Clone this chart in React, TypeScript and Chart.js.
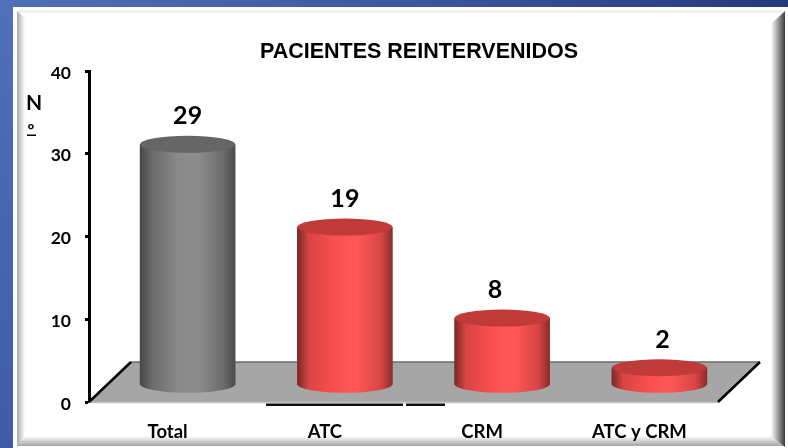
import React, { useEffect, useRef } from "react";
import { Chart, registerables } from "chart.js";

Chart.register(...registerables);

const categories = ["Total", "ATC", "CRM", "ATC y CRM"];
const patients = [29, 19, 8, 2];
const yTicks = [0, 10, 20, 30, 40];
const chartTitle = "PACIENTES REINTERVENIDOS";
const axisTitleLines = ["N", "º"];

const graySide = ["#474747", "#6a6a6a", "#8a8a8a", "#8c8c8c", "#6a6a6a", "#4c4c4c"];
const redSide = ["#7a2828", "#d84444", "#fb5050", "#ff5757", "#d84545", "#8c2c2c"];
const sideStops = [graySide, redSide, redSide, redSide];
const capColors = ["#666666", "#c13a3a", "#c13a3a", "#c13a3a"];
const labelNudge = [0, 0, -7, 3];
const stopAt = [0, 0.12, 0.4, 0.62, 0.88, 1];

const DEPTH_X = 20;
const DEPTH_Y = -21;
const CAP_RY = 8.5;
const FONT = "Lato, 'Open Sans', sans-serif";

function sideGradient(ctx: CanvasRenderingContext2D, cx: number, w: number, i: number) {
  const g = ctx.createLinearGradient(cx - w / 2, 0, cx + w / 2, 0);
  sideStops[i].forEach((color, k) => g.addColorStop(stopAt[k], color));
  return g;
}

const framePlugin = {
  id: "frame",
  beforeDraw(chart: any) {
    const { ctx, width: W, height: H } = chart;
    ctx.save();
    const bg = ctx.createLinearGradient(0, H, W, 0);
    bg.addColorStop(0, "#3f5ba6");
    bg.addColorStop(0.25, "#5070b8");
    bg.addColorStop(0.6, "#3d5aa2");
    bg.addColorStop(1, "#253a7c");
    ctx.fillStyle = bg;
    ctx.fillRect(0, 0, W, H);
    ctx.fillStyle = "#ffffff";
    ctx.fillRect(13, 7, W - 13, H - 7);

    ctx.fillStyle = "#f0f0f0";
    ctx.fillRect(18, 10, W - 24, 3);

    let g = ctx.createLinearGradient(17, 0, 25, 0);
    g.addColorStop(0, "#a8a8a8");
    g.addColorStop(1, "#ffffff");
    ctx.fillStyle = g;
    ctx.beginPath();
    ctx.moveTo(17, 11);
    ctx.lineTo(25, 18);
    ctx.lineTo(25, 436);
    ctx.lineTo(17, 447);
    ctx.fill();

    g = ctx.createLinearGradient(0, 436, 0, 446);
    g.addColorStop(0, "#ffffff");
    g.addColorStop(1, "#a4a4a4");
    ctx.fillStyle = g;
    ctx.beginPath();
    ctx.moveTo(25, 436);
    ctx.lineTo(773, 436);
    ctx.lineTo(784, 446);
    ctx.lineTo(17, 446);
    ctx.fill();

    g = ctx.createLinearGradient(771, 0, 785, 0);
    g.addColorStop(0, "#ffffff");
    g.addColorStop(0.6, "#8a8a8a");
    g.addColorStop(1, "#3c3c3c");
    ctx.fillStyle = g;
    ctx.beginPath();
    ctx.moveTo(785, 11);
    ctx.lineTo(771, 24);
    ctx.lineTo(771, 436);
    ctx.lineTo(785, 447);
    ctx.fill();
    ctx.restore();
  },
};

const cylinderPlugin = {
  id: "cylinders",
  afterLayout(chart: any) {
    chart.titleBlock.left += 60;
    chart.titleBlock.right += 60;
  },
  beforeDatasetsDraw(chart: any) {
    const { ctx, chartArea: a } = chart;
    ctx.save();
    ctx.fillStyle = "#a6a6a6";
    ctx.beginPath();
    ctx.moveTo(a.left, a.bottom);
    ctx.lineTo(a.left + 42, a.bottom - 40);
    ctx.lineTo(a.right + 42, a.bottom - 40);
    ctx.lineTo(a.right, a.bottom);
    ctx.closePath();
    ctx.fill();
    ctx.strokeStyle = "#6a6a6a";
    ctx.lineWidth = 1.5;
    ctx.beginPath();
    ctx.moveTo(a.left + 42, a.bottom - 40);
    ctx.lineTo(a.right + 42, a.bottom - 40);
    ctx.stroke();
    ctx.strokeStyle = "#c4c4c4";
    ctx.beginPath();
    ctx.moveTo(a.left, a.bottom + 0.5);
    ctx.lineTo(a.right, a.bottom + 0.5);
    ctx.stroke();
    ctx.strokeStyle = "#000000";
    ctx.lineWidth = 2.5;
    ctx.beginPath();
    ctx.moveTo(a.left, a.bottom);
    ctx.lineTo(a.left + 42, a.bottom - 40);
    ctx.moveTo(a.right, a.bottom);
    ctx.lineTo(a.right + 42, a.bottom - 40);
    ctx.stroke();
    ctx.fillStyle = "#111111";
    ctx.fillRect(266, a.bottom + 1.5, 137, 2.5);
    ctx.fillRect(406, a.bottom + 1.5, 39, 2.5);

    ctx.translate(DEPTH_X, DEPTH_Y);
    chart.getDatasetMeta(0).data.forEach((bar: any, i: number) => {
      ctx.fillStyle = sideGradient(ctx, bar.x, bar.width, i);
      ctx.beginPath();
      ctx.ellipse(bar.x, bar.base, bar.width / 2, CAP_RY, 0, 0, Math.PI * 2);
      ctx.fill();
    });
  },
  afterDatasetsDraw(chart: any) {
    const { ctx } = chart;
    chart.getDatasetMeta(0).data.forEach((bar: any, i: number) => {
      ctx.fillStyle = capColors[i];
      ctx.beginPath();
      ctx.ellipse(bar.x, bar.y, bar.width / 2, CAP_RY, 0, 0, Math.PI * 2);
      ctx.fill();
      ctx.fillStyle = "#000000";
      ctx.font = `700 25px ${FONT}`;
      ctx.textAlign = "center";
      ctx.textBaseline = "middle";
      ctx.fillText(String(patients[i]), bar.x + labelNudge[i], bar.y - 28);
    });
    ctx.restore();

    ctx.save();
    ctx.fillStyle = "#000000";
    ctx.textAlign = "center";
    ctx.textBaseline = "middle";
    ctx.font = `700 21px ${FONT}`;
    ctx.fillText(axisTitleLines[0], 34, 103);
    ctx.font = `700 17px ${FONT}`;
    ctx.fillText(axisTitleLines[1], 31, 131);
    ctx.fillRect(27, 134.5, 9, 1.5);
    ctx.restore();
  },
};

export default function App() {
  const ref = useRef<HTMLCanvasElement>(null);
  useEffect(() => {
    const chart = new Chart(ref.current!, {
      type: "bar",
      data: {
        labels: categories,
        datasets: [
          {
            data: patients,
            yAxisID: "yBars",
            barThickness: 95,
            clip: false,
            borderWidth: 0,
            backgroundColor: (c: any) => {
              const i = c.dataIndex;
              if (c.type !== "data" || !(i >= 0)) return "#ff5858";
              const cx = c.chart.scales.x.getPixelForValue(i);
              if (!Number.isFinite(cx)) return "#ff5858";
              return sideGradient(c.chart.ctx, cx, 95, i);
            },
          } as any,
        ],
      },
      options: {
        animation: false,
        responsive: false,
        layout: { padding: { left: 0, right: 70, top: 0, bottom: 0 } },
        plugins: {
          legend: { display: false },
          tooltip: { enabled: false },
          title: {
            display: true,
            text: chartTitle,
            color: "#000000",
            font: { family: "'Liberation Sans', Arial, sans-serif", size: 21.5, weight: "bold", lineHeight: 1.2 },
            padding: { top: 39, bottom: 6.2 },
          },
        },
        scales: {
          x: {
            offset: true,
            grid: { display: false },
            border: { display: false },
            afterFit: (s: any) => {
              s.height = 46;
            },
            ticks: {
              color: "#000000",
              font: { family: FONT, size: 18.5, weight: "bold" },
              padding: 11,
              maxRotation: 0,
              autoSkip: false,
            },
          },
          y: {
            min: 0,
            max: 40,
            afterFit: (s: any) => {
              s.width = 89;
            },
            afterBuildTicks: (s: any) => {
              s.ticks = yTicks.map((value) => ({ value }));
            },
            border: { display: true, color: "#000000", width: 3 },
            grid: { drawOnChartArea: false, drawTicks: true, tickLength: 4, tickColor: "#000000", tickWidth: 3 },
            ticks: {
              color: "#000000",
              font: { family: FONT, size: 17.5, weight: "bold" },
              padding: 14,
              labelOffset: 2,
            },
          },
          yBars: { display: false, min: 0.4, max: 40.4 },
        },
      } as any,
      plugins: [framePlugin, cylinderPlugin],
    });
    return () => chart.destroy();
  }, []);
  return (
    <div style={{ position: "absolute", left: 0, top: 0, width: 788, height: 448 }}>
      <canvas ref={ref} width={788} height={448} style={{ display: "block" }} />
    </div>
  );
}
